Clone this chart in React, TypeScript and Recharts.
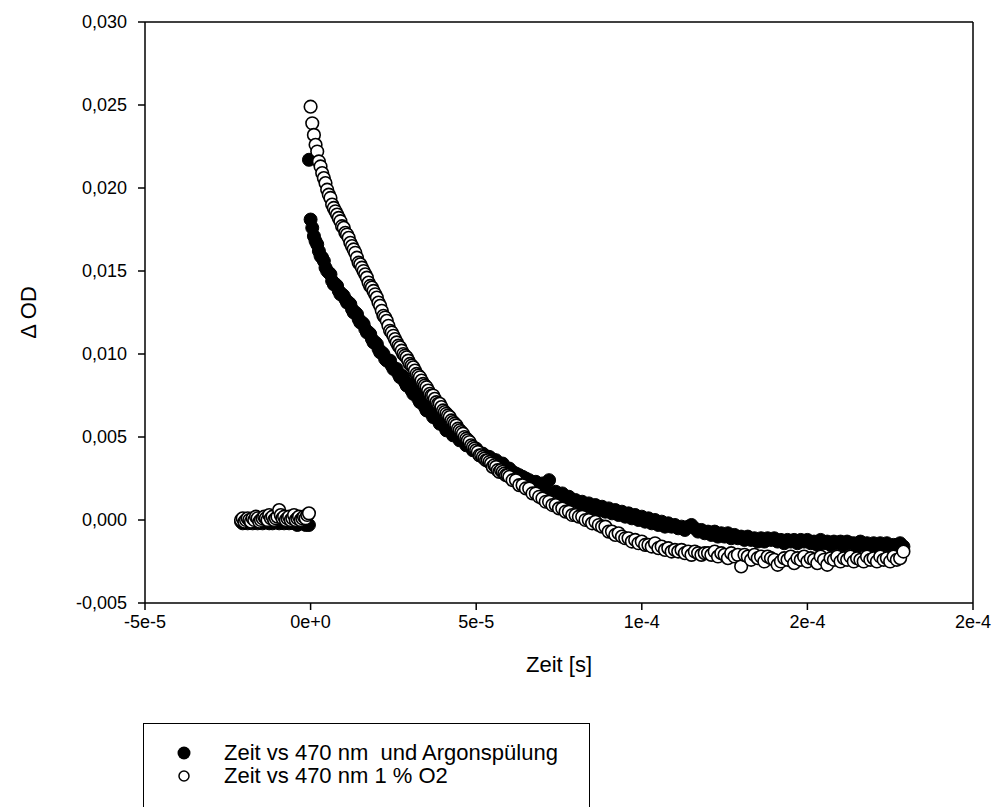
import { ScatterChart, Scatter, XAxis, YAxis, ReferenceLine, Legend } from "recharts";

// Transient absorption at 470 nm, argon purge vs 1 % O2.
// Times in microseconds, ΔOD in units of 1e-4.
const SERIES_NAMES = ["Zeit vs 470 nm  und Argonspülung", "Zeit vs 470 nm 1 % O2"];

const X_TICKS = [-5e-5, 0, 5e-5, 1e-4, 1.5e-4, 2e-4];
const X_TICK_LABELS = ["-5e-5", "0e+0", "5e-5", "1e-4", "2e-4", "2e-4"];
const Y_TICKS = [-0.005, 0, 0.005, 0.01, 0.015, 0.02, 0.025, 0.03];

// baseline before the flash
const TIME_PRE_US = [
  -21, -20.5, -20, -19.5, -19, -18.5, -18, -17.5, -17, -16.5,
  -16, -15.5, -15, -14.5, -14, -13.5, -13, -12.5, -12, -11.5,
  -11, -10.5, -10, -9.5, -9, -8.5, -8, -7.5, -7, -6.5,
  -6, -5.5, -5, -4.5, -4, -3.5, -3, -2.5, -2, -1.5,
  -1, -0.5,
];
// fast part of the decay
const TIME_EARLY_US = [
  0, 0.5, 1, 1.5, 2, 2.5, 3, 3.5, 4, 4.5,
  5, 5.5, 6, 6.5, 7, 7.5, 8, 8.5, 9, 9.5,
  10, 10.5, 11, 11.5, 12, 12.5, 13, 13.5, 14, 14.5,
  15, 15.5, 16, 16.5, 17, 17.5, 18, 18.5, 19, 19.5,
  20, 20.5, 21, 21.5, 22, 22.5, 23, 23.5, 24, 24.5,
  25, 25.5, 26, 26.5, 27, 27.5, 28, 28.5, 29, 29.5,
  30, 30.5, 31, 31.5, 32, 32.5, 33, 33.5, 34, 34.5,
  35, 35.5, 36, 36.5, 37, 37.5, 38, 38.5, 39, 39.5,
  40, 40.5, 41, 41.5, 42, 42.5, 43, 43.5, 44, 44.5,
  45, 45.5, 46, 46.5, 47, 47.5, 48, 48.5, 49, 49.5,
  50, 50.5, 51, 51.5, 52, 52.5, 53, 53.5, 54, 54.5,
  55, 55.5, 56, 56.5, 57, 57.5, 58, 58.5, 59, 59.5,
  60,
];
// slow tail
const TIME_LATE_US = [
  61, 62, 63, 64, 65, 66, 67, 68, 69,
  70, 71, 72, 73, 74, 75, 76, 77, 78, 79,
  80, 81, 82, 83, 84, 85, 86, 87, 88, 89,
  90, 91, 92, 93, 94, 95, 96, 97, 98, 99,
  100, 101, 102, 103, 104, 105, 106, 107, 108, 109,
  110, 111, 112, 113, 114, 115, 116, 117, 118, 119,
  120, 121, 122, 123, 124, 125, 126, 127, 128, 129,
  130, 131, 132, 133, 134, 135, 136, 137, 138, 139,
  140, 141, 142, 143, 144, 145, 146, 147, 148, 149,
  150, 151, 152, 153, 154, 155, 156, 157, 158, 159,
  160, 161, 162, 163, 164, 165, 166, 167, 168, 169,
  170, 171, 172, 173, 174, 175, 176, 177, 178, 179,
];

// argon purge (filled markers)
const ARGON_PRE = [
  -1, -2, 0, -1, -2, -1, 0, -2, -1, -1,
  -2, 0, -1, -2, -1, -1, 0, -2, -1, -2,
  -1, 0, -1, -2, -1, 0, -2, -1, -1, -2,
  0, -1, -2, -1, -3, -1, -2, -1, -2, -3,
  -2, -3,
];
const ARGON_SPIKE_US = [-0.5];
const ARGON_SPIKE = [217];
const ARGON_EARLY = [
  181, 176, 171, 168, 166, 162, 159, 158, 156, 152,
  150, 149, 148, 144, 142, 142, 141, 138, 136, 136,
  135, 133, 131, 131, 130, 127, 125, 125, 124, 121,
  119, 119, 118, 115, 113, 113, 112, 109, 107, 107,
  106, 103, 101, 101, 100, 97, 96, 96, 96, 93,
  91, 91, 91, 88, 86, 87, 86, 83, 81, 82,
  81, 78, 76, 77, 76, 73, 71, 72, 71, 68,
  66, 67, 66, 64, 62, 63, 62, 60, 58, 59,
  58, 56, 54, 55, 55, 53, 51, 52, 52, 50,
  48, 49, 49, 47, 45, 46, 46, 44, 42, 43,
  43, 41, 39, 40, 40, 39, 37, 38, 38, 37,
  35, 36, 36, 34, 32, 33, 34, 32, 30, 31,
  31,
];
const ARGON_LATE = [
  29, 28, 27, 26, 25, 24, 22, 23, 20,
  22, 18, 24, 16, 17, 14, 16, 12, 14, 11,
  12, 9, 11, 8, 10, 7, 9, 6, 8, 5,
  7, 4, 6, 3, 5, 2, 4, 1, 3, 0,
  2, -1, 1, -2, 0, -3, -1, -4, -2, -4,
  -3, -5, -4, -6, -4, -3, -5, -7, -6, -8,
  -7, -9, -7, -10, -8, -10, -8, -11, -9, -11,
  -10, -12, -10, -12, -11, -13, -11, -13, -11, -12,
  -11, -13, -12, -14, -12, -13, -12, -14, -12, -13,
  -12, -14, -13, -15, -12, -14, -13, -15, -13, -14,
  -13, -15, -13, -14, -14, -16, -13, -15, -14, -15,
  -14, -16, -14, -15, -14, -16, -15, -15, -14, -16,
];

// 1 % O2 (open markers)
const O2_PRE = [
  0, 1, -1, 0, 1, 0, -1, 1, 0, 2,
  1, -1, 0, 1, 2, 1, 0, 3, 1, 2,
  0, 1, 2, 6, 3, 1, 2, 0, 1, 2,
  0, 1, 3, 0, 1, 2, 0, 1, 2, 1,
  3, 4,
];
const O2_EARLY = [
  249, 239, 232, 226, 222, 216, 213, 209, 206, 203,
  199, 196, 194, 190, 188, 186, 184, 182, 180, 177,
  176, 173, 172, 170, 167, 165, 163, 161, 158, 155,
  154, 152, 150, 148, 146, 143, 141, 140, 138, 136,
  134, 131, 129, 126, 123, 122, 120, 117, 114, 113,
  111, 109, 107, 105, 104, 102, 100, 99, 98, 96,
  94, 93, 92, 90, 88, 87, 86, 84, 82, 81,
  80, 78, 76, 75, 75, 73, 71, 70, 70, 68,
  66, 65, 64, 63, 62, 60, 59, 58, 57, 55,
  54, 53, 52, 50, 49, 48, 47, 45, 44, 43,
  42, 41, 39, 39, 38, 37, 36, 36, 35, 34,
  32, 33, 32, 30, 29, 30, 29, 28, 27, 27,
  26,
];
const O2_LATE = [
  24, 24, 21, 21, 19, 19, 16, 16, 14,
  13, 11, 11, 9, 9, 7, 7, 5, 5, 3,
  3, 2, 2, 0, 0, -2, -1, -3, -4, -4,
  -7, -7, -9, -8, -10, -11, -11, -13, -12, -14,
  -13, -15, -15, -16, -14, -17, -16, -18, -17, -19,
  -18, -19, -18, -20, -19, -21, -19, -20, -21, -20,
  -20, -21, -19, -22, -20, -21, -23, -20, -22, -21,
  -28, -21, -22, -24, -21, -23, -22, -25, -22, -23,
  -24, -27, -25, -23, -24, -22, -26, -23, -24, -22,
  -25, -23, -24, -26, -22, -24, -27, -23, -24, -22,
  -25, -23, -24, -22, -25, -23, -24, -25, -22, -24,
  -23, -25, -22, -24, -23, -25, -22, -24, -23, -19,
];

const FONT = "'Liberation Sans', Arial, sans-serif";

const toPoints = (times: number[], vals: number[]) =>
  times.map((t, i) => ({ x: t * 1e-6, y: vals[i] * 1e-4 }));

const argon = [
  ...toPoints(TIME_PRE_US, ARGON_PRE),
  ...toPoints(ARGON_SPIKE_US, ARGON_SPIKE),
  ...toPoints(TIME_EARLY_US, ARGON_EARLY),
  ...toPoints(TIME_LATE_US, ARGON_LATE),
];
const o2 = [
  ...toPoints(TIME_PRE_US, O2_PRE),
  ...toPoints(TIME_EARLY_US, O2_EARLY),
  ...toPoints(TIME_LATE_US, O2_LATE),
];

const fmtY = (v: number) => v.toFixed(3).replace(".", ",");
const fmtX = (v: number) => {
  const i = X_TICKS.findIndex((t) => Math.abs(t - v) < 1e-9);
  return i >= 0 ? X_TICK_LABELS[i] : String(v);
};

const filledDot = (p: any) => (
  <circle cx={p.cx} cy={p.cy} r={6.5} fill="#000" stroke="#000" strokeWidth={1} />
);
const openDot = (p: any) => (
  <circle cx={p.cx} cy={p.cy} r={6.3} fill="#fff" stroke="#000" strokeWidth={1.6} />
);

function LegendBox() {
  return (
    <div
      style={{
        border: "1.5px solid #000",
        height: 120,
        boxSizing: "border-box",
        paddingTop: 17,
        fontFamily: FONT,
        fontSize: 22,
        color: "#000",
        background: "#fff",
      }}
    >
      {SERIES_NAMES.map((name, i) => (
        <div key={name} style={{ display: "flex", alignItems: "center", height: 23 }}>
          <div style={{ width: 80, display: "flex", justifyContent: "center" }}>
            <svg width={16} height={16}>
              {i === 0 ? (
                <circle cx={8} cy={8} r={6.5} fill="#000" />
              ) : (
                <circle cx={8} cy={8} r={5} fill="#fff" stroke="#000" strokeWidth={1.5} />
              )}
            </svg>
          </div>
          <span style={{ whiteSpace: "pre", lineHeight: "21px" }}>{name}</span>
        </div>
      ))}
    </div>
  );
}

export default function App() {
  const axisStroke = { stroke: "#000", strokeWidth: 1.5 };
  const tick = { fill: "#000", fontSize: 18, fontFamily: FONT };
  return (
    <div
      style={{
        position: "absolute",
        left: 0,
        top: 0,
        width: 999,
        height: 807,
        overflow: "hidden",
        background: "#fff",
      }}
    >
      <ScatterChart width={999} height={807} margin={{ top: 22, right: 26, bottom: 0, left: 0 }}>
        <XAxis
          type="number"
          dataKey="x"
          domain={[-5e-5, 2e-4]}
          ticks={X_TICKS}
          tickFormatter={fmtX}
          height={204}
          tick={tick}
          tickSize={7}
          tickMargin={5}
          axisLine={axisStroke}
          tickLine={axisStroke}
          label={{
            content: (props: any) => {
              const vb = props.viewBox;
              return (
                <text
                  x={vb.x + vb.width / 2}
                  y={vb.y + 61}
                  textAnchor="middle"
                  dominantBaseline="central"
                  fontSize={22}
                  fontFamily={FONT}
                  fill="#000"
                >
                  Zeit [s]
                </text>
              );
            },
          }}
        />
        <YAxis
          type="number"
          dataKey="y"
          domain={[-0.005, 0.03]}
          ticks={Y_TICKS}
          tickFormatter={fmtY}
          width={145}
          tick={tick}
          tickSize={7}
          tickMargin={11}
          axisLine={axisStroke}
          tickLine={axisStroke}
          label={{
            content: (props: any) => {
              const vb = props.viewBox;
              const cx = vb.x + 28;
              const cy = vb.y + vb.height / 2;
              return (
                <text
                  x={cx}
                  y={cy}
                  transform={`rotate(-90, ${cx}, ${cy})`}
                  textAnchor="middle"
                  dominantBaseline="central"
                  fontSize={22}
                  fontFamily={FONT}
                  fill="#000"
                >
                  Δ OD
                </text>
              );
            },
          }}
        />
        <ReferenceLine y={0.03} stroke="#000" strokeWidth={1.5} />
        <ReferenceLine x={2e-4} stroke="#000" strokeWidth={1.5} />
        <Legend
          layout="vertical"
          align="center"
          verticalAlign="middle"
          wrapperStyle={{ left: 143, top: 723, width: 447 }}
          content={() => <LegendBox />}
        />
        <Scatter name={SERIES_NAMES[0]} data={argon} shape={filledDot} isAnimationActive={false} />
        <Scatter name={SERIES_NAMES[1]} data={o2} shape={openDot} isAnimationActive={false} />
      </ScatterChart>
    </div>
  );
}
